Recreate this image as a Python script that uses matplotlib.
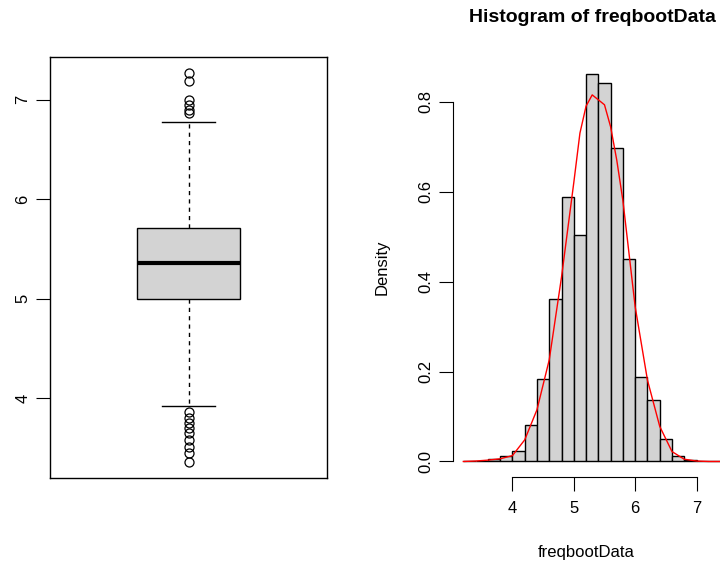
import numpy as np
import matplotlib
matplotlib.use("Agg")
import matplotlib.pyplot as plt

plt.rcParams['font.family'] = ['Liberation Sans', 'DejaVu Sans']

# boxplot summary
box_q1, box_med, box_q3 = 5.00, 5.36, 5.71
whisk_lo, whisk_hi = 3.92, 6.78
outliers_hi = [7.27, 7.19, 7.00, 6.95, 6.90, 6.87]
outliers_lo = [3.86, 3.80, 3.75, 3.70, 3.65, 3.58, 3.51, 3.45, 3.36]

# histogram (density) bins of width 0.2
bin_edges = [3.2, 3.4, 3.6, 3.8, 4.0, 4.2, 4.4, 4.6, 4.8, 5.0, 5.2, 5.4,
             5.6, 5.8, 6.0, 6.2, 6.4, 6.6, 6.8, 7.0, 7.2, 7.4]
bin_density = [0.002, 0.002, 0.005, 0.013, 0.024, 0.081, 0.184, 0.361, 0.589,
               0.503, 0.862, 0.841, 0.696, 0.451, 0.187, 0.136, 0.050, 0.013,
               0.004, 0.002, 0.002]

# kernel density curve
kde_x = [3.2, 3.4, 3.6, 3.8, 4.0, 4.2, 4.4, 4.6, 4.8, 5.0, 5.1, 5.2, 5.3, 5.4,
         5.5, 5.6, 5.7, 5.8, 6.0, 6.2, 6.4, 6.6, 6.8, 7.0, 7.2, 7.4, 7.6]
kde_y = [0.0, 0.001, 0.003, 0.006, 0.013, 0.048, 0.115, 0.226, 0.41, 0.62, 0.73,
         0.79, 0.815, 0.804, 0.793, 0.744, 0.67, 0.58, 0.344, 0.181, 0.078,
         0.022, 0.005, 0.001, 0.0, 0.0, 0.0]

W, H = 720, 561
fig = plt.figure(figsize=(7.2, 5.61), dpi=100)

# ---- left: boxplot
ax1 = fig.add_axes([50 / W, 1 - 478 / H, 277 / W, 421 / H])
stats = [dict(med=box_med, q1=box_q1, q3=box_q3, whislo=whisk_lo,
              whishi=whisk_hi, fliers=outliers_hi + outliers_lo)]
ax1.bxp(stats, positions=[1], widths=[0.375], capwidths=[0.19],
        patch_artist=True,
        boxprops=dict(facecolor='#D3D3D3', edgecolor='black', linewidth=1),
        medianprops=dict(color='black', linewidth=3),
        whiskerprops=dict(color='black', linewidth=1, linestyle=(0, (3, 3))),
        capprops=dict(color='black', linewidth=1),
        flierprops=dict(marker='o', markerfacecolor='none',
                        markeredgecolor='black', markersize=6.5,
                        markeredgewidth=0.9))
ax1.set_xlim(0.5, 1.5)
ax1.set_ylim(3.20, 7.43)
ax1.set_xticks([])
ax1.set_yticks([4, 5, 6, 7])
ax1.set_yticklabels(['4', '5', '6', '7'], rotation=90, va='center')
ax1.tick_params(axis='y', length=10, labelsize=12, pad=4)
for s in ax1.spines.values():
    s.set_linewidth(1)

# ---- right: histogram with density line
ax2 = fig.add_axes([453 / W, 1 - 477 / H, 267 / W, 419 / H])
edges = np.array(bin_edges)
ax2.bar(edges[:-1], bin_density, width=np.diff(edges), align='edge',
        color='#D3D3D3', edgecolor='black', linewidth=1)
ax2.plot(kde_x, kde_y, color='red', linewidth=1)
ax2.set_xlim(3.032, 7.382)
ax2.set_ylim(-0.0345, 0.897)
ax2.set_xticks([4, 5, 6, 7])
ax2.set_yticks([0.0, 0.2, 0.4, 0.6, 0.8])
ax2.set_yticklabels(['0.0', '0.2', '0.4', '0.6', '0.8'], rotation=90, va='center')
ax2.tick_params(axis='y', length=10, labelsize=12, pad=4)
ax2.tick_params(axis='x', length=10, labelsize=12, pad=7)
ax2.spines['top'].set_visible(False)
ax2.spines['right'].set_visible(False)
ax2.spines['left'].set_bounds(0.0, 0.8)
ax2.spines['bottom'].set_bounds(4, 7)
ax2.set_xlabel('freqbootData', fontsize=12, labelpad=21)
ax2.set_ylabel('Density', fontsize=12, labelpad=21)
fig.text(592 / W, 1 - 18 / H, 'Histogram of freqbootData', ha='center',
         va='center', fontsize=14, fontweight='bold')

fig.savefig('out.png', dpi=100)
